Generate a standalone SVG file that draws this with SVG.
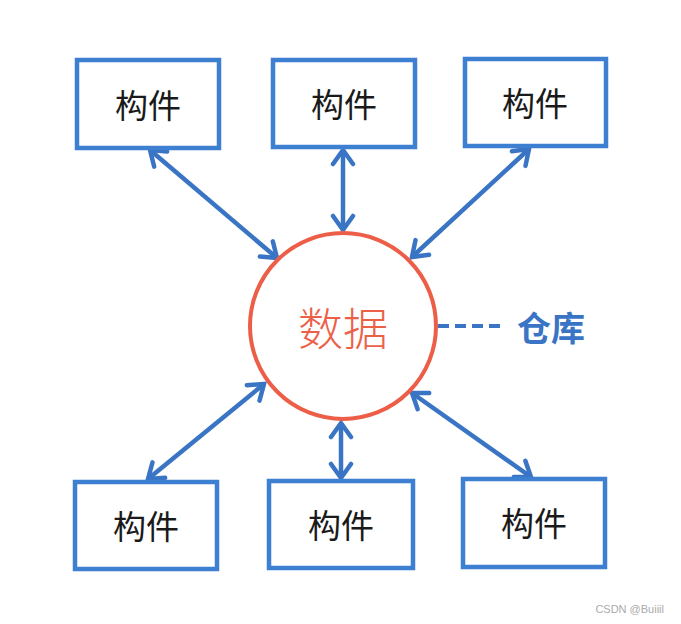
<svg xmlns="http://www.w3.org/2000/svg" width="681" height="624" viewBox="0 0 681 624">
<style>
.box{fill:#fff;stroke:#3d7fd0;stroke-width:4.5}
.lbl{font-family:"Noto Sans CJK SC","Noto Sans",sans-serif;font-size:33px;fill:#1a1a1a;text-anchor:middle;dominant-baseline:central}
.conn{stroke:#3a74c4;stroke-width:4.5;fill:none;marker-start:url(#ah);marker-end:url(#ah)}
</style>
<defs>
<marker id="ah" markerUnits="userSpaceOnUse" viewBox="-18 -13 22 26" markerWidth="22" markerHeight="26" refX="0" refY="0" orient="auto-start-reverse">
<path d="M-14,-10 L0,0 L-14,10" fill="none" stroke="#3a74c4" stroke-width="4.5" stroke-linejoin="miter" stroke-linecap="round"/>
</marker>
</defs>
<rect width="681" height="624" fill="#fff"/>
<g id="connectors">
<line class="conn" x1="150" y1="150" x2="277" y2="258"/>
<line class="conn" x1="343" y1="150" x2="343" y2="230"/>
<line class="conn" x1="529" y1="149" x2="412" y2="257"/>
<line class="conn" x1="264" y1="384" x2="148" y2="479"/>
<line class="conn" x1="341" y1="423" x2="341" y2="478"/>
<line class="conn" x1="412" y1="393" x2="531" y2="477"/>
<line x1="438" y1="326" x2="500" y2="326" stroke="#3a74c4" stroke-width="4" stroke-dasharray="11,6"/>
</g>
<g id="center">
<circle cx="343" cy="326" r="93" fill="#fff" stroke="#ec5e48" stroke-width="4"/>
<text x="343" y="326" font-family="'Noto Sans CJK SC','Noto Sans',sans-serif" font-size="45" font-weight="300" fill="#ec6048" text-anchor="middle" dominant-baseline="central">数据</text>
</g>
<g id="warehouse">
<text x="551" y="326" font-family="'Noto Sans CJK SC','Noto Sans',sans-serif" font-size="34" font-weight="bold" fill="#3a74c4" text-anchor="middle" dominant-baseline="central">仓库</text>
</g>
<g id="n1"><rect class="box" x="77" y="60" width="142" height="88"/><text class="lbl" x="148" y="104">构件</text></g>
<g id="n2"><rect class="box" x="273" y="60" width="142" height="87"/><text class="lbl" x="344" y="103">构件</text></g>
<g id="n3"><rect class="box" x="465" y="59" width="141" height="87"/><text class="lbl" x="535" y="102">构件</text></g>
<g id="n4"><rect class="box" x="75" y="482" width="142" height="87"/><text class="lbl" x="146" y="525">构件</text></g>
<g id="n5"><rect class="box" x="269" y="481" width="144" height="87"/><text class="lbl" x="341" y="524">构件</text></g>
<g id="n6"><rect class="box" x="463" y="479" width="142" height="88"/><text class="lbl" x="534" y="522">构件</text></g>
<text x="664" y="613" font-family="'Liberation Sans',sans-serif" font-size="11" fill="#aaa" text-anchor="end">CSDN @Buiiil</text>
</svg>
